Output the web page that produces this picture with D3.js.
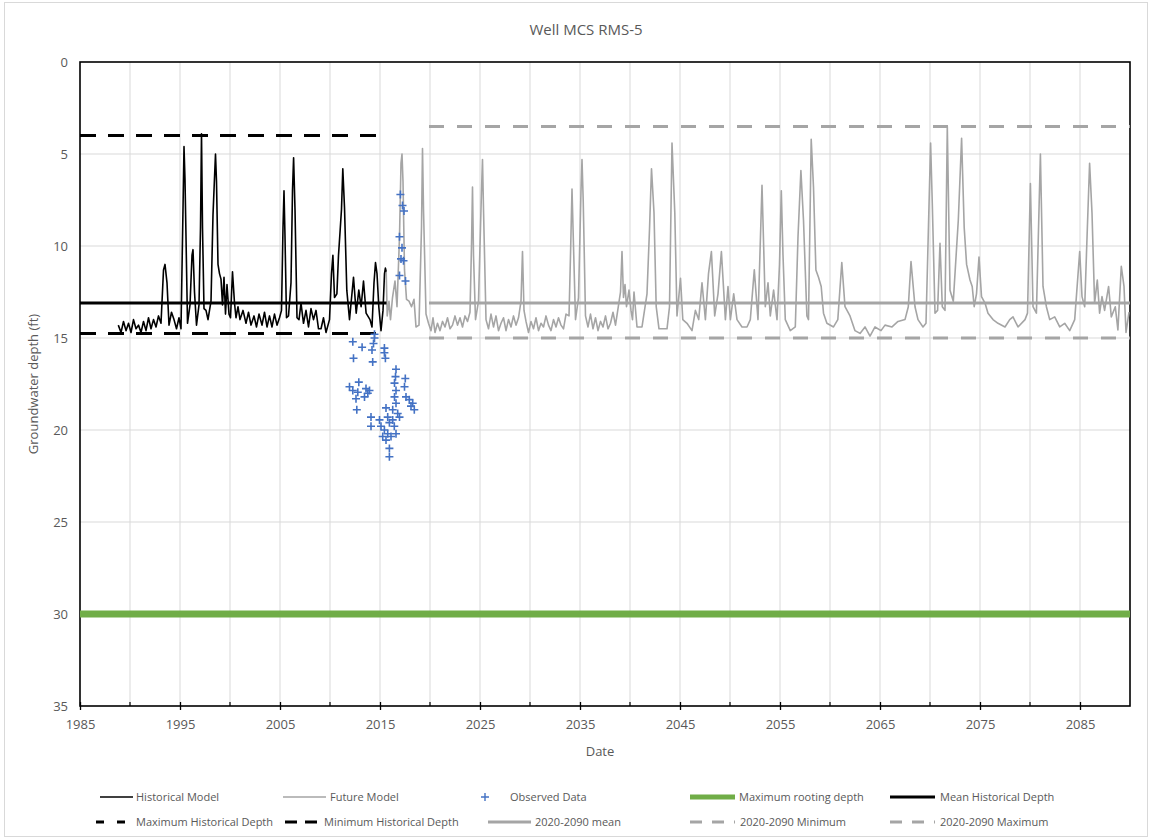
<!DOCTYPE html>
<html>
<head>
<meta charset="utf-8">
<script src="https://cdn.jsdelivr.net/npm/d3@7"></script>
<style>
  html, body { margin: 0; padding: 0; background: #fff; }
  svg { display: block; font-family: "Open Sans", "Noto Sans", sans-serif; }
</style>
</head>
<body>
<svg id="chart" width="1151" height="840"></svg>
<script>
// ---------------- DATA ----------------
const chartTitle = "Well MCS RMS-5";
const xTitle = "Date";
const yTitle = "Groundwater depth (ft)";
const xTickYears = [1985, 1995, 2005, 2015, 2025, 2035, 2045, 2055, 2065, 2075, 2085];
const xGridYears = [1990, 1995, 2000, 2005, 2010, 2015, 2020, 2025, 2030, 2035, 2040, 2045, 2050, 2055, 2060, 2065, 2070, 2075, 2080, 2085];
const yTicks = [0, 5, 10, 15, 20, 25, 30, 35];

// Historical Model: [year, depth ft]
const historicalModel = [
  [1988.83,14.3],[1989.1,14.7],[1989.35,14.1],[1989.6,14.6],[1989.85,14.2],[1990.1,14.7],[1990.35,14.0],[1990.6,14.5],
  [1990.85,14.3],[1991.1,14.7],[1991.35,14.1],[1991.6,14.6],[1991.85,13.9],[1992.1,14.5],[1992.35,14.0],[1992.6,14.4],
  [1992.85,13.8],[1993.1,14.2],[1993.35,11.3],[1993.5,11.0],[1993.7,12.0],[1993.9,14.3],[1994.15,13.6],[1994.4,14.0],
  [1994.65,14.5],[1994.9,13.9],[1995.1,14.5],[1995.3,8.0],[1995.4,4.6],[1995.5,6.4],[1995.6,9.5],[1995.75,14.2],
  [1996.0,13.2],[1996.2,10.5],[1996.3,10.2],[1996.45,12.5],[1996.65,14.3],[1996.9,13.2],[1997.05,9.0],[1997.15,3.9],
  [1997.25,9.0],[1997.4,13.4],[1997.6,13.5],[1997.8,14.0],[1998.1,13.0],[1998.3,8.3],[1998.45,6.3],[1998.55,5.0],
  [1998.65,6.5],[1998.8,11.0],[1998.95,11.5],[1999.1,11.8],[1999.25,13.2],[1999.4,11.7],[1999.55,13.7],[1999.7,12.1],
  [1999.9,13.7],[2000.05,13.9],[2000.25,11.4],[2000.45,13.1],[2000.6,13.9],[2000.8,13.3],[2001.0,14.0],[2001.3,13.5],
  [2001.6,14.2],[2001.85,13.6],[2002.1,14.3],[2002.4,13.8],[2002.65,14.4],[2002.9,13.7],[2003.2,14.3],[2003.45,13.6],
  [2003.7,14.4],[2003.95,13.8],[2004.2,14.4],[2004.45,13.7],[2004.7,14.3],[2004.95,13.9],[2005.15,13.5],[2005.3,9.0],
  [2005.4,7.0],[2005.5,9.5],[2005.65,13.9],[2005.85,13.8],[2006.1,12.0],[2006.25,7.0],[2006.36,5.2],[2006.5,8.0],
  [2006.7,13.9],[2006.9,14.0],[2007.1,13.1],[2007.35,14.2],[2007.6,13.5],[2007.85,14.4],[2008.1,13.4],[2008.35,14.0],
  [2008.6,13.5],[2008.85,14.5],[2009.1,14.5],[2009.35,13.9],[2009.6,14.7],[2009.95,14.0],[2010.15,11.5],[2010.29,10.5],
  [2010.45,12.8],[2010.69,12.6],[2010.85,10.5],[2011.02,9.1],[2011.15,8.0],[2011.28,5.8],[2011.45,7.9],[2011.68,12.4],
  [2011.95,14.0],[2012.35,11.7],[2012.62,13.65],[2012.88,12.4],[2013.11,13.3],[2013.35,11.9],[2013.61,13.65],[2014.0,14.0],
  [2014.2,14.4],[2014.4,12.0],[2014.55,10.9],[2014.7,11.5],[2014.88,13.3],[2015.1,14.6],[2015.3,13.5],[2015.45,11.5],
  [2015.54,11.2],[2015.62,11.4]
];

// Future Model: [year, depth ft]
const futureModel = [
  [2015.62,11.4],[2015.72,13.8],[2015.9,13.0],[2016.05,14.0],[2016.25,12.8],[2016.5,11.9],[2016.7,13.3],[2016.95,9.5],
  [2017.1,5.5],[2017.2,5.0],[2017.3,6.5],[2017.45,11.3],[2017.65,12.9],[2017.9,13.0],[2018.15,13.3],[2018.4,12.9],
  [2018.6,14.4],[2018.9,14.3],[2019.15,9.0],[2019.25,4.7],[2019.35,8.0],[2019.6,13.7],[2019.85,14.2],[2020.1,14.6],
  [2020.3,13.9],[2020.5,14.7],[2020.75,14.2],[2021.0,14.6],[2021.25,14.1],[2021.5,14.4],[2021.75,13.9],[2022.0,14.5],
  [2022.25,14.3],[2022.5,13.8],[2022.75,14.3],[2023.0,13.9],[2023.25,14.4],[2023.5,13.8],[2023.75,14.1],[2024.0,13.6],
  [2024.15,10.0],[2024.25,6.8],[2024.35,10.5],[2024.55,14.0],[2024.85,13.0],[2025.15,7.0],[2025.25,5.3],[2025.35,8.0],
  [2025.6,14.0],[2025.85,14.5],[2026.1,13.7],[2026.35,14.4],[2026.6,13.8],[2026.85,14.6],[2027.1,14.2],[2027.35,13.9],
  [2027.6,14.6],[2027.85,14.0],[2028.1,14.4],[2028.35,13.8],[2028.6,14.3],[2028.85,13.9],[2029.1,13.0],[2029.25,10.3],
  [2029.4,13.5],[2029.6,14.1],[2029.85,14.7],[2030.1,14.1],[2030.35,14.5],[2030.6,13.9],[2030.85,14.6],[2031.1,14.2],
  [2031.35,14.4],[2031.6,13.8],[2031.85,14.3],[2032.1,14.6],[2032.35,14.0],[2032.6,14.4],[2032.85,13.9],[2033.1,14.3],
  [2033.35,14.5],[2033.6,13.7],[2033.9,13.8],[2034.05,10.5],[2034.2,6.9],[2034.35,10.0],[2034.55,14.0],[2034.85,12.8],
  [2035.1,7.0],[2035.2,5.3],[2035.32,7.5],[2035.55,13.8],[2035.8,14.4],[2036.05,13.7],[2036.3,14.5],[2036.55,13.9],
  [2036.8,14.6],[2037.05,14.1],[2037.3,14.4],[2037.55,13.8],[2037.8,14.5],[2038.05,14.2],[2038.3,13.6],[2038.55,14.3],
  [2038.8,13.4],[2039.05,12.5],[2039.2,10.3],[2039.35,12.8],[2039.5,12.1],[2039.65,13.3],[2039.9,12.4],[2040.1,13.5],
  [2040.25,14.0],[2040.4,12.5],[2040.7,14.4],[2041.2,14.4],[2041.7,12.6],[2041.95,9.1],[2042.15,5.8],[2042.4,8.2],
  [2042.62,13.3],[2042.9,14.5],[2043.7,14.5],[2043.95,13.3],[2044.2,4.4],[2044.48,8.2],[2044.7,13.8],[2045.05,11.75],
  [2045.28,14.0],[2045.7,14.2],[2046.2,14.6],[2046.54,13.5],[2046.87,14.0],[2047.2,12.0],[2047.54,14.0],[2047.85,11.5],
  [2048.14,10.3],[2048.47,13.8],[2048.8,12.6],[2049.14,10.3],[2049.54,14.0],[2049.8,12.2],[2050.04,14.0],[2050.37,12.6],
  [2050.7,14.0],[2051.2,14.4],[2051.7,14.4],[2052.03,14.0],[2052.43,11.3],[2052.8,14.0],[2053.2,6.7],[2053.53,13.3],
  [2053.8,12.0],[2054.03,13.8],[2054.36,12.4],[2054.7,14.0],[2054.95,11.0],[2055.13,7.0],[2055.3,10.5],[2055.53,14.0],
  [2056.03,14.6],[2056.53,14.4],[2056.8,9.5],[2057.09,5.9],[2057.35,8.6],[2057.69,13.8],[2057.85,14.0],[2058.12,4.2],
  [2058.35,6.8],[2058.59,11.3],[2058.85,11.7],[2059.12,12.2],[2059.35,13.65],[2059.69,14.2],[2060.35,14.4],[2060.78,14.0],
  [2061.18,10.9],[2061.5,13.3],[2062.0,13.8],[2062.5,14.6],[2063.0,14.75],[2063.5,14.4],[2064.0,14.9],[2064.5,14.4],
  [2065.1,14.6],[2065.5,14.3],[2066.2,14.4],[2066.8,14.1],[2067.5,14.0],[2067.83,13.3],[2068.1,10.85],[2068.5,13.3],
  [2068.8,14.0],[2069.3,14.4],[2069.6,14.2],[2070.06,4.4],[2070.23,7.7],[2070.5,13.65],[2070.76,13.5],[2071.0,9.85],
  [2071.23,13.3],[2071.5,13.5],[2071.73,3.5],[2072.0,12.4],[2072.33,13.0],[2072.83,8.6],[2073.16,4.15],[2073.42,9.0],
  [2073.66,11.0],[2074.0,11.85],[2074.22,12.2],[2074.42,13.3],[2074.65,12.6],[2074.9,10.6],[2075.15,12.75],[2075.5,13.1],
  [2075.8,13.65],[2076.3,14.0],[2076.8,14.2],[2077.5,14.4],[2077.97,14.0],[2078.3,13.85],[2078.8,14.4],[2079.5,14.0],
  [2079.75,13.65],[2080.04,6.6],[2080.3,13.3],[2080.64,13.65],[2081.04,5.0],[2081.3,12.2],[2081.64,13.3],[2081.97,14.0],
  [2082.47,13.85],[2082.97,14.4],[2083.47,14.2],[2083.97,14.6],[2084.47,14.0],[2084.97,10.3],[2085.2,12.75],[2085.47,13.3],
  [2085.73,9.1],[2085.96,5.5],[2086.2,8.2],[2086.46,13.1],[2086.73,11.85],[2086.96,13.65],[2087.2,12.75],[2087.46,13.5],
  [2087.86,12.2],[2088.13,13.85],[2088.53,13.3],[2088.79,14.56],[2089.13,11.1],[2089.4,12.2],[2089.6,14.7],[2089.9,13.6]
];

// Observed Data: [year, depth ft]
const observedData = [
  [2017.04,7.2],[2017.25,7.8],[2017.4,8.1],[2016.95,9.5],[2017.2,10.1],[2017.1,10.7],[2017.35,10.8],[2016.95,11.6],[2017.55,11.9],
  [2012.28,15.2],[2013.21,15.5],[2012.35,16.1],[2014.27,16.3],[2014.45,14.8],[2014.45,15.0],[2014.35,15.3],[2014.2,15.65],
  [2015.44,15.55],[2015.44,15.8],[2015.54,16.1],[2016.6,16.7],[2016.55,17.1],[2017.53,17.2],[2016.45,17.45],[2017.45,17.65],
  [2011.95,17.65],[2012.28,17.85],[2012.88,17.4],[2012.78,17.95],[2013.6,17.75],[2013.95,17.85],[2013.78,18.0],[2012.6,18.3],
  [2013.45,18.2],[2012.68,18.9],[2016.6,17.85],[2016.45,18.2],[2016.6,18.55],[2017.93,18.35],[2018.27,18.55],[2018.1,18.7],
  [2018.43,18.9],[2017.6,18.2],[2015.6,18.8],[2016.27,18.9],[2016.77,19.1],[2016.95,19.3],[2014.1,19.3],[2014.1,19.8],
  [2014.95,19.45],[2015.1,19.8],[2015.44,20.0],[2015.77,20.2],[2015.27,20.35],[2015.6,20.55],[2016.1,20.35],[2015.94,19.6],
  [2016.27,19.45],[2015.77,19.3],[2015.94,21.0],[2015.94,21.45],[2016.43,19.8],[2016.6,20.2]
];

// Reference levels: [depth ft, startYear, endYear]
const maxRootingDepth = [30.0, 1985, 2090];
const meanHistoricalDepth = [13.1, 1985, 2015.65];
const maxHistoricalDepth = [4.0, 1985, 2015.65];
const minHistoricalDepth = [14.75, 1985, 2015.65];
const futureMean = [13.1, 2019.9, 2090];
const futureMinimum = [15.0, 2019.9, 2090];
const futureMaximum = [3.5, 2019.9, 2090];

const legendRow1 = ["Historical Model", "Future Model", "Observed Data", "Maximum rooting depth", "Mean Historical Depth"];
const legendRow2 = ["Maximum Historical Depth", "Minimum Historical Depth", "2020-2090 mean", "2020-2090 Minimum", "2020-2090 Maximum"];

// ---------------- DRAW ----------------
const svg = d3.select("#chart");
const W = 1151, H = 840;
const plot = {left: 80, right: 1130, top: 62, bottom: 706};
const x = d3.scaleLinear().domain([1985, 2090]).range([plot.left, plot.right]);
const y = d3.scaleLinear().domain([0, 35]).range([plot.top, plot.bottom]);

const textColor = "#595959";
const gridColor = "#d9d9d9";
const futureGray = "#a5a5a5";

// outer chart frame
svg.append("rect").attr("x", 4.5).attr("y", 2.5).attr("width", W - 8).attr("height", H - 6)
  .attr("fill", "#fff").attr("stroke", "#d9d9d9").attr("stroke-width", 1);

// grid
svg.append("g").selectAll("line").data(xGridYears).join("line")
  .attr("x1", d => x(d)).attr("x2", d => x(d)).attr("y1", plot.top).attr("y2", plot.bottom)
  .attr("stroke", gridColor).attr("stroke-width", 1);
svg.append("g").selectAll("line").data(yTicks.filter(d => d > 0 && d < 35)).join("line")
  .attr("x1", plot.left).attr("x2", plot.right).attr("y1", d => y(d)).attr("y2", d => y(d))
  .attr("stroke", gridColor).attr("stroke-width", 1);

// axes
const xAxis = d3.axisBottom(x).tickValues(xTickYears).tickFormat(d3.format("d")).tickSize(4).tickPadding(10);
const gx = svg.append("g").attr("transform", `translate(0,${plot.bottom})`).call(xAxis);
gx.select(".domain").remove();
gx.selectAll(".tick line").attr("y1", -4).attr("y2", 4).attr("stroke", "#000").attr("stroke-width", 1.3);
gx.selectAll(".tick text").attr("fill", textColor).attr("font-size", 13).attr("font-family", "Open Sans, sans-serif");
// minor ticks
svg.append("g").selectAll("line").data(xGridYears.filter(d => d % 10 === 0)).join("line")
  .attr("x1", d => x(d)).attr("x2", d => x(d)).attr("y1", plot.bottom - 4).attr("y2", plot.bottom)
  .attr("stroke", "#000").attr("stroke-width", 1.2);

const yAxis = d3.axisLeft(y).tickValues(yTicks).tickFormat(d3.format("d")).tickSize(0).tickPadding(12);
const gy = svg.append("g").attr("transform", `translate(${plot.left},0)`).call(yAxis);
gy.select(".domain").remove();
gy.selectAll(".tick text").attr("fill", textColor).attr("font-size", 13).attr("font-family", "Open Sans, sans-serif");

// plot border
svg.append("rect").attr("x", plot.left).attr("y", plot.top)
  .attr("width", plot.right - plot.left).attr("height", plot.bottom - plot.top)
  .attr("fill", "none").attr("stroke", "#000").attr("stroke-width", 1.6);

// reference lines
function hline(spec, color, width, dash) {
  const [depth, x0, x1] = spec;
  const l = svg.append("line").attr("x1", x(x0)).attr("x2", x(x1)).attr("y1", y(depth)).attr("y2", y(depth))
    .attr("stroke", color).attr("stroke-width", width);
  if (dash) l.attr("stroke-dasharray", dash);
  return l;
}
hline(maxRootingDepth, "#70ad47", 7);
hline(futureMean, futureGray, 3);
hline(futureMinimum, futureGray, 3, "15,13");
hline(futureMaximum, futureGray, 3, "15,13");

const line = d3.line().x(d => x(d[0])).y(d => y(d[1]));
svg.append("path").datum(futureModel).attr("d", line).attr("fill", "none")
  .attr("stroke", futureGray).attr("stroke-width", 1.6).attr("stroke-linejoin", "round");

hline(meanHistoricalDepth, "#000", 3);
hline(maxHistoricalDepth, "#000", 3, "16,12");
hline(minHistoricalDepth, "#000", 3, "16,12");

svg.append("path").datum(historicalModel).attr("d", line).attr("fill", "none")
  .attr("stroke", "#000").attr("stroke-width", 1.6).attr("stroke-linejoin", "round");

// observed markers
const plusPath = "M-4,0H4M0,-4V4";
svg.append("g").selectAll("path").data(observedData).join("path")
  .attr("transform", d => `translate(${x(d[0])},${y(d[1])})`)
  .attr("d", plusPath).attr("stroke", "#4472c4").attr("stroke-width", 1.6).attr("fill", "none");

// titles
svg.append("text").attr("x", 586).attr("y", 35).attr("text-anchor", "middle")
  .attr("fill", textColor).attr("font-size", 15).text(chartTitle);
svg.append("text").attr("x", 600).attr("y", 756).attr("text-anchor", "middle")
  .attr("fill", textColor).attr("font-size", 13).text(xTitle);
svg.append("text").attr("transform", "translate(38,384) rotate(-90)").attr("text-anchor", "middle")
  .attr("fill", textColor).attr("font-size", 13).text(yTitle);

// legend
const lg = svg.append("g").attr("font-size", 11).attr("fill", textColor);
const r1 = 797, r2 = 822;
function legLine(x0, x1, yy, color, width, dash) {
  const l = lg.append("line").attr("x1", x0).attr("x2", x1).attr("y1", yy).attr("y2", yy)
    .attr("stroke", color).attr("stroke-width", width);
  if (dash) l.attr("stroke-dasharray", dash);
}
function legText(xx, yy, t) {
  lg.append("text").attr("x", xx).attr("y", yy).attr("dy", "0.35em").text(t);
}
legLine(100, 133, r1, "#000", 1.4); legText(136, r1, legendRow1[0]);
legLine(283, 326, r1, futureGray, 1.4); legText(330, r1, legendRow1[1]);
lg.append("path").attr("transform", `translate(485,${r1})`).attr("d", plusPath)
  .attr("stroke", "#4472c4").attr("stroke-width", 1.4);
legText(510, r1, legendRow1[2]);
legLine(690, 735, r1, "#70ad47", 5); legText(739, r1, legendRow1[3]);
legLine(890, 935, r1, "#000", 3); legText(940, r1, legendRow1[4]);

legLine(96, 133, r2, "#000", 3, "8,13"); legText(136, r2, legendRow2[0]);
legLine(285, 320, r2, "#000", 3, "12,8"); legText(324, r2, legendRow2[1]);
legLine(488, 531, r2, futureGray, 3); legText(535, r2, legendRow2[2]);
legLine(690, 735, r2, futureGray, 3, "12,10"); legText(740, r2, legendRow2[3]);
legLine(890, 935, r2, futureGray, 3, "12,10"); legText(940, r2, legendRow2[4]);
</script>
</body>
</html>
